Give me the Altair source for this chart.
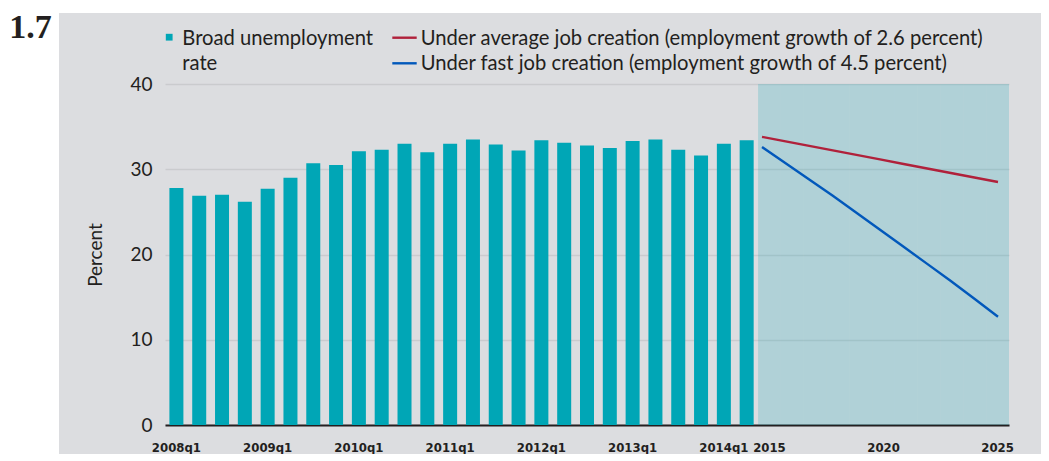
import altair as alt
import pandas as pd

# ---------------- data ----------------
quarters = ["2008q1", "2008q2", "2008q3", "2008q4",
            "2009q1", "2009q2", "2009q3", "2009q4",
            "2010q1", "2010q2", "2010q3", "2010q4",
            "2011q1", "2011q2", "2011q3", "2011q4",
            "2012q1", "2012q2", "2012q3", "2012q4",
            "2013q1", "2013q2", "2013q3", "2013q4",
            "2014q1", "2014q2"]
broad_unemployment = [27.8, 26.9, 27.0, 26.2, 27.7, 29.0, 30.7, 30.5,
                      32.1, 32.3, 33.0, 32.0, 33.0, 33.5, 32.9, 32.2,
                      33.4, 33.1, 32.8, 32.5, 33.3, 33.5, 32.3, 31.6,
                      33.0, 33.4]

proj_years = [2015, 2016, 2017, 2018, 2019, 2020, 2021, 2022, 2023, 2024, 2025]
avg_job_creation = [33.8, 33.27, 32.74, 32.21, 31.68, 31.15, 30.62, 30.09, 29.56, 29.03, 28.5]
fast_job_creation = [32.6, 30.7, 28.8, 26.9, 24.9, 22.9, 20.9, 18.9, 16.9, 14.8, 12.7]

x_tick_labels = ["2008q1", "2009q1", "2010q1", "2011q1", "2012q1", "2013q1",
                 "2014q1", "2015", "2020", "2025"]
y_ticks = [0, 10, 20, 30, 40]

bar_label = "Broad unemployment\nrate"
avg_label = "Under average job creation (employment growth of 2.6 percent)"
fast_label = "Under fast job creation (employment growth of 4.5 percent)"
figure_number = "1.7"

# ---------------- styles ----------------
TEAL = "#00a6b6"
RED = "#b0213b"
BLUE = "#0258bb"
BG = "#dcdde0"
INK = "#231f20"
FONT = "Lato"
COND = "Liberation Sans Narrow, DejaVu Sans Condensed, Liberation Sans"
FIGFONT = "Liberation Serif"

x_domain = quarters + [str(y) for y in proj_years]

bar_df = pd.DataFrame({"period": quarters, "rate": broad_unemployment})
shade_df = pd.DataFrame({"period": [str(y) for y in proj_years]})
line_df = pd.concat([
    pd.DataFrame({"year": proj_years, "value": avg_job_creation, "scenario": avg_label}),
    pd.DataFrame({"year": proj_years, "value": fast_job_creation, "scenario": fast_label}),
])
one = pd.DataFrame({"d": [0]})

band = alt.Scale(domain=x_domain, paddingInner=0, paddingOuter=0)
yscale = alt.Scale(domain=[0, 40], nice=False, zero=True)
y_axis = alt.Axis(values=y_ticks, title="Percent", ticks=False, tickSize=0,
                  domain=False, grid=True, gridColor="#cacbce", gridWidth=1.3,
                  labelFont=FONT, labelFontSize=19, labelColor=INK,
                  labelPadding=13, titleFont=FONT, titleFontSize=19,
                  titleFontWeight="normal", titleColor=INK, titlePadding=24)

shade = alt.Chart(shade_df).mark_rect(color=TEAL, opacity=0.2).encode(
    x=alt.X("period:N", sort=None, scale=band, axis=None),
    y=alt.Y(datum=40, type="quantitative", scale=yscale, axis=y_axis),
    y2=alt.Y2(datum=0),
)

bars = alt.Chart(bar_df).mark_bar(size=14, color=TEAL).encode(
    x=alt.X("period:N", sort=None, scale=band,
            axis=alt.Axis(values=x_tick_labels, title=None, ticks=False, tickSize=0,
                          labelAngle=0, labelFont=COND, labelFontSize=13,
                          labelFontWeight="bold", labelColor=INK, labelPadding=16,
                          domainColor=INK, domainWidth=2, grid=False)),
    y=alt.Y("rate:Q", scale=yscale, axis=y_axis),
)

lines = alt.Chart(line_df).mark_line(strokeWidth=2.4).encode(
    x=alt.X("year:Q", scale=alt.Scale(domain=[1989.70, 2025.466], nice=False, zero=False),
            axis=None),
    y=alt.Y("value:Q", scale=yscale, axis=y_axis),
    color=alt.Color("scenario:N", scale=alt.Scale(domain=[avg_label, fast_label],
                                                  range=[RED, BLUE]), legend=None),
)

# ---------------- legend (manual) ----------------
LFS = 20.2
leg_sq = alt.Chart(one).mark_square(size=46, color=TEAL, opacity=1).encode(
    x=alt.value(4.2), y=alt.value(-46.8))
leg_bar_txt = alt.Chart(pd.DataFrame({"label": [bar_label]})).mark_text(
    align="left", baseline="alphabetic", font=FONT, fontSize=LFS, color=INK,
    lineBreak="\n", lineHeight=24.5).encode(
    x=alt.value(17.3), y=alt.value(-38.7), text="label:N")
leg_red = alt.Chart(one).mark_rule(color=RED, strokeWidth=2.4).encode(
    x=alt.value(227.3), x2=alt.value(251.7), y=alt.value(-46.3))
leg_red_txt = alt.Chart(pd.DataFrame({"label": [avg_label]})).mark_text(
    align="left", baseline="alphabetic", font=FONT, fontSize=LFS, color=INK).encode(
    x=alt.value(255.7), y=alt.value(-38.7), text="label:N")
leg_blue = alt.Chart(one).mark_rule(color=BLUE, strokeWidth=2.4).encode(
    x=alt.value(227.3), x2=alt.value(251.7), y=alt.value(-20.7))
leg_blue_txt = alt.Chart(pd.DataFrame({"label": [fast_label]})).mark_text(
    align="left", baseline="alphabetic", font=FONT, fontSize=LFS, color=INK).encode(
    x=alt.value(255.7), y=alt.value(-14.2), text="label:N")

# ---------------- frame decoration ----------------
white_col = alt.Chart(one).mark_rect(color="white").encode(
    x=alt.value(-157), x2=alt.value(-106), y=alt.value(-76), y2=alt.value(370))
white_top = alt.Chart(one).mark_rect(color="white").encode(
    x=alt.value(-106), x2=alt.value(876), y=alt.value(-76), y2=alt.value(-71))
fig_num = alt.Chart(pd.DataFrame({"label": [figure_number]})).mark_text(
    align="center", baseline="alphabetic", font=FIGFONT, fontSize=34,
    fontWeight="bold", color=INK).encode(
    x=alt.value(-134.5), y=alt.value(-45.7), text="label:N")

chart = alt.layer(
    white_col, white_top, fig_num,
    shade, bars, lines,
    leg_sq, leg_bar_txt, leg_red, leg_red_txt, leg_blue, leg_blue_txt,
).resolve_scale(x="independent").properties(
    width=844, height=341, padding=0, background=BG
).configure_view(stroke=None)

chart.save("out.html", embed_options={"renderer": "svg", "actions": False})
